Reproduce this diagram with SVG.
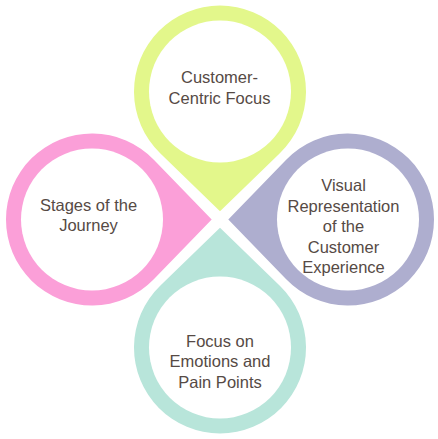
<svg xmlns="http://www.w3.org/2000/svg" width="438" height="439" viewBox="0 0 438 439">
<style>
.hole{fill:#ffffff}
.lbl{font-family:"Liberation Sans",Arial,sans-serif;font-size:16.5px;fill:#564a45;text-anchor:middle}
</style>
<rect width="438" height="439" fill="#ffffff"/>
<g id="node-customer-centric">
<path d="M220,211.2 L279.81,153.29 A86,86 0 1 0 160.19,153.29 Z" fill="#e3f78b"/>
<circle class="hole" cx="220" cy="91.5" r="71"/>
<text class="lbl" x="219.5" y="83.3">Customer-</text>
<text class="lbl" x="219.5" y="103.5">Centric Focus</text>
</g>
<g id="node-stages">
<path d="M211.7,219.5 L153.79,279.31 A86,86 0 1 1 153.79,159.69 Z" fill="#fb9fd8"/>
<circle class="hole" cx="92" cy="219.5" r="71"/>
<text class="lbl" x="88.5" y="210.7">Stages of the</text>
<text class="lbl" x="88.5" y="231">Journey</text>
</g>
<g id="node-visual">
<path d="M228.3,219.5 L286.21,159.69 A86,86 0 1 1 286.21,279.31 Z" fill="#aeaecf"/>
<circle class="hole" cx="348" cy="219.5" r="71"/>
<text class="lbl" x="343.5" y="191">Visual</text>
<text class="lbl" x="343.5" y="211.6">Representation</text>
<text class="lbl" x="343.5" y="232.2">of the</text>
<text class="lbl" x="343.5" y="252.8">Customer</text>
<text class="lbl" x="343.5" y="273.4">Experience</text>
</g>
<g id="node-emotions">
<path d="M220,227.8 L160.19,285.71 A86,86 0 1 0 279.81,285.71 Z" fill="#b8e5da"/>
<circle class="hole" cx="220" cy="347.5" r="71"/>
<text class="lbl" x="220" y="346.7">Focus on</text>
<text class="lbl" x="220" y="367.3">Emotions and</text>
<text class="lbl" x="220" y="387.8">Pain Points</text>
</g>
<g id="connectors"></g>
</svg>
